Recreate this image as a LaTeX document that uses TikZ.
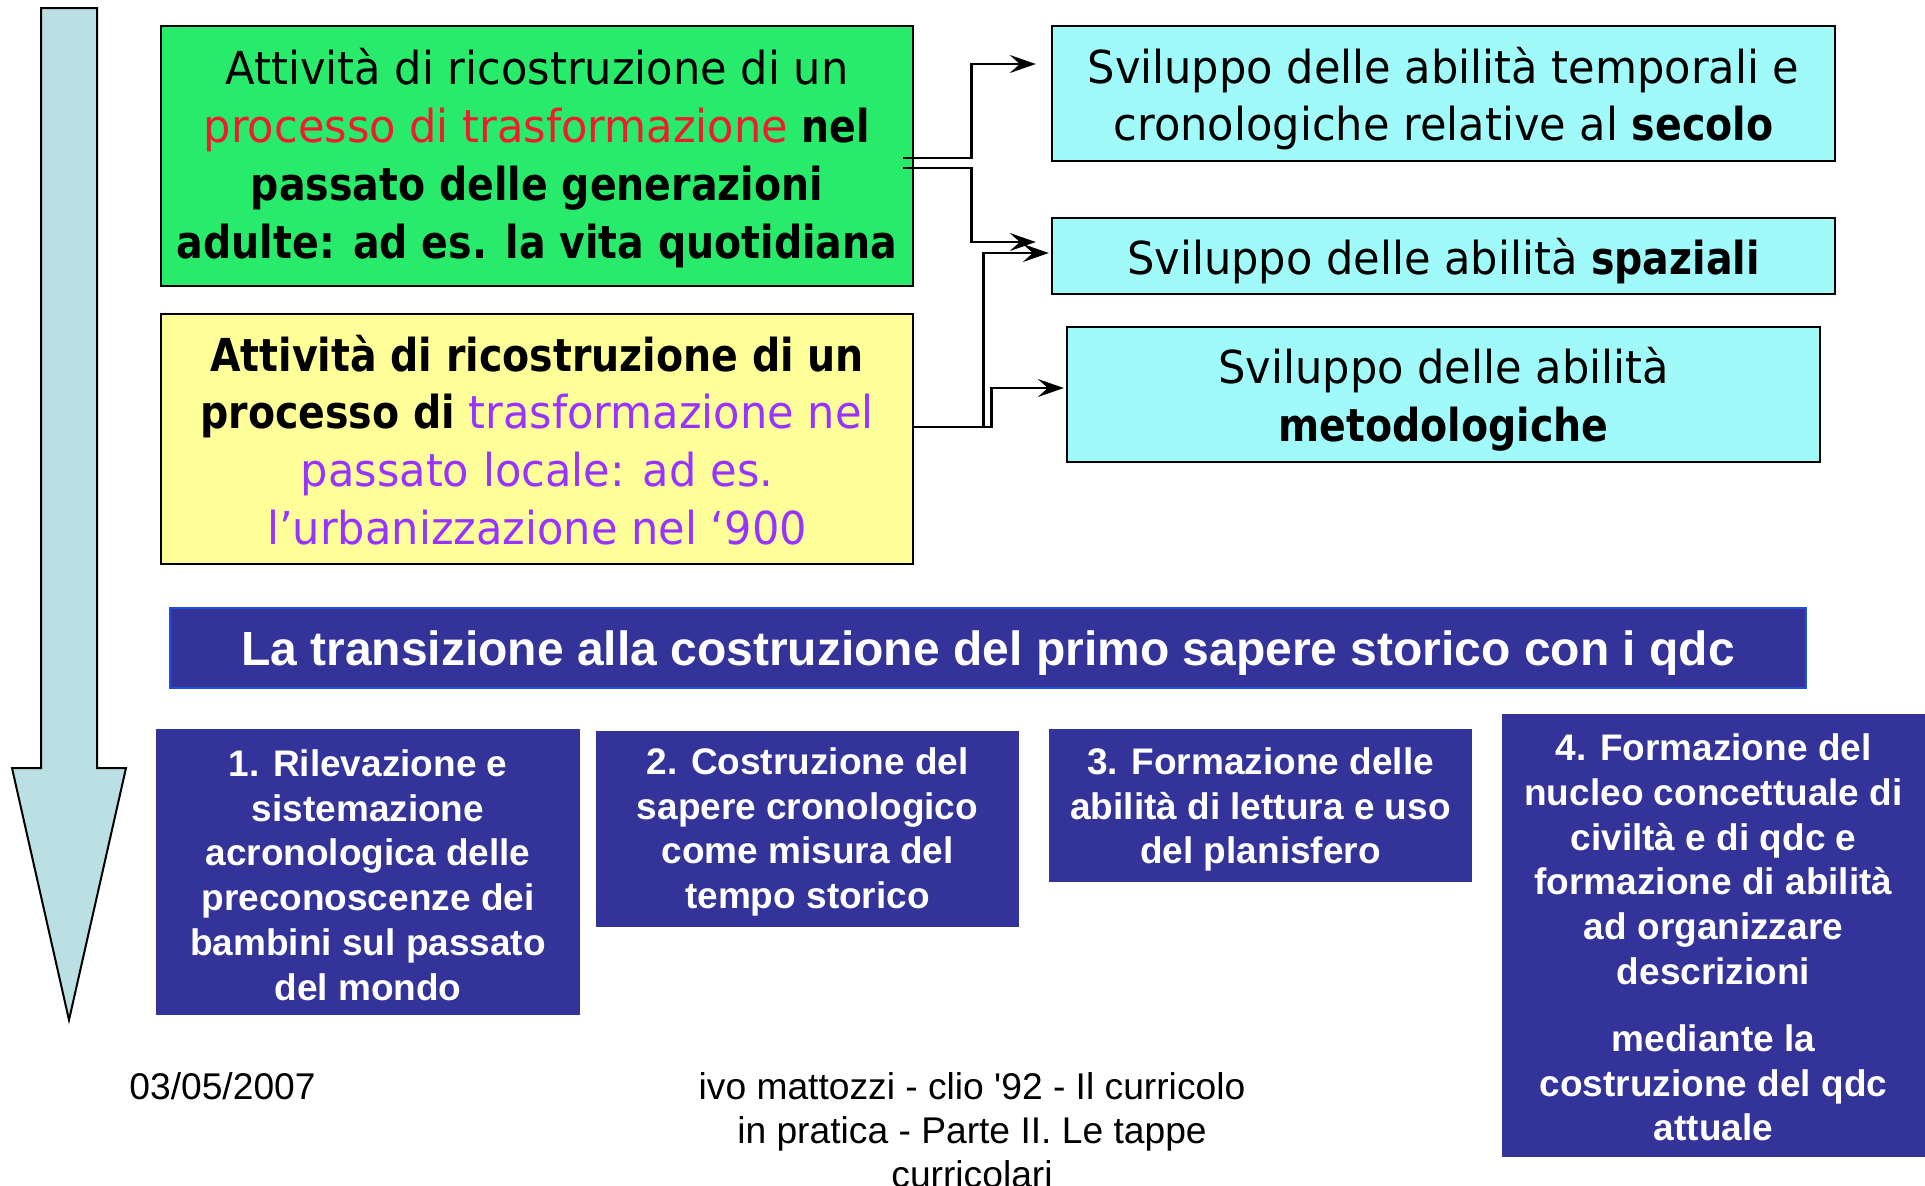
\documentclass[tikz,border=0pt]{standalone}
\usepackage{fontspec}
\setmainfont{DejaVu Sans}
\newfontfamily\tah[FakeStretch=0.95,BoldFeatures={FakeStretch=0.87}]{DejaVu Sans}
\newfontfamily\arl{Liberation Sans}
\usetikzlibrary{arrows.meta,calc}
\definecolor{gbox}{HTML}{29EB6B}
\definecolor{ybox}{HTML}{FFFF99}
\definecolor{cbox}{HTML}{A0FAFA}
\definecolor{dblue}{HTML}{333399}
\definecolor{tborder}{HTML}{2050D8}
\definecolor{afill}{HTML}{BBE0E3}
\definecolor{redt}{HTML}{EE1C2E}
\definecolor{purp}{HTML}{9933FF}
\tikzset{
  lightbox/.style={draw=black, line width=1.2pt, inner sep=0pt},
  lighttext/.style={inner sep=0pt, align=center,
    font=\tah\fontsize{22.7}{28.9}\selectfont},
  bluebox/.style={fill=dblue, inner sep=0pt},
  bluetext/.style={inner sep=0pt, align=center, text=white,
    font=\arl\bfseries\fontsize{18.5}{22.35}\selectfont},
  conn/.style={draw=black, line width=1.35pt,
    -{Stealth[length=13pt,width=9pt,inset=5pt]}},
  foot/.style={inner sep=0pt, align=center, font=\arl\fontsize{18.6}{22}\selectfont}
}
\begin{document}
\begin{tikzpicture}[x=0.5pt,y=-0.5pt]
\useasboundingbox (0,0) rectangle (1925,1185);
\clip (0,0) rectangle (1925,1185);

% big down arrow
\draw[fill=afill, draw=black, line width=1pt, line join=miter]
  (41,8) -- (97,8) -- (97,768) -- (126,768) -- (69,1020) -- (12,768) -- (41,768) -- cycle;

% activity boxes
\node[lightbox, fill=gbox, minimum width=376pt, minimum height=130pt] (green) at (537,156) {};
\node[lighttext] (greent) at ($(green)+(0,2)$)
  {Attività di ricostruzione di un\\
   {\color{redt}processo di trasformazione} \textbf{nel}\\
   \textbf{passato delle generazioni}\\
   \textbf{adulte: ad es. la vita quotidiana}};
\node[lightbox, fill=ybox, minimum width=376pt, minimum height=125pt] (yellow) at (537,439) {};
\node[lighttext] (yellowt) at ($(yellow)+(0,1)$)
  {\textbf{Attività di ricostruzione di un}\\
   \textbf{processo di} {\color{purp}trasformazione nel}\\
   {\color{purp}passato locale: ad es.}\\
   {\color{purp}l’urbanizzazione nel ‘900}};

% skill boxes
\node[lightbox, fill=cbox, minimum width=391.5pt, minimum height=67.5pt] (cy1) at (1443.5,93.5) {};
\node[lighttext] (cy1t) at ($(cy1)+(0,5)$)
  {Sviluppo delle abilità temporali e\\cronologiche relative al \textbf{secolo}};
\node[lightbox, fill=cbox, minimum width=391.5pt, minimum height=38pt] (cy2) at (1443.5,256) {};
\node[lighttext] (cy2t) at ($(cy2)+(0,5)$)
  {Sviluppo delle abilità \textbf{spaziali}};
\node[lightbox, fill=cbox, minimum width=376.5pt, minimum height=67.5pt] (cy3) at (1443.5,394.5) {};
\node[lighttext] (cy3t) at ($(cy3)+(0,5)$)
  {Sviluppo delle abilità\\\textbf{metodologiche}};

% connectors
\draw[conn] ($(green.east)+(-11,2)$) -- ++(68,0) |- ($(cy1.west)+(-15,-29.5)$);
\draw[conn] ($(green.east)+(-11,12)$) -- ++(68,0) |- ($(cy2.west)+(-15,-14)$);
\draw[conn] ($(yellow.east)+(0,-12)$) -- ++(69,0) |- ($(cy2.west)+(-2,-3)$);
\draw[conn] ($(yellow.east)+(0,-12)$) -- ++(77,0) |- ($(cy3.west)+(-2,-6.5)$);

% title banner
\node[fill=dblue, draw=tborder, line width=1pt, inner sep=0pt,
  minimum width=818pt, minimum height=40pt] (title) at (988,648) {};
\node[inner sep=0pt, text=white, font=\arl\bfseries\fontsize{24}{30}\selectfont]
  (titlet) at ($(title)+(0,5)$)
  {La transizione alla costruzione del primo sapere storico con i qdc};

% stage boxes
\node[bluebox, minimum width=212pt, minimum height=143pt] (s1) at (368,872) {};
\node[bluetext] (s1t) at ($(s1)+(0,3)$)
  {1. Rilevazione e\\sistemazione\\acronologica delle\\preconoscenze dei\\bambini sul passato\\del mondo};
\node[bluebox, minimum width=211.5pt, minimum height=98pt] (s2) at (807.5,829) {};
\node[bluetext] (s2t) at ($(s2)+(0,3)$)
  {2. Costruzione del\\sapere cronologico\\come misura del\\tempo storico};
\node[bluebox, minimum width=211.5pt, minimum height=76.5pt] (s3) at (1260.5,805.5) {};
\node[bluetext] (s3t) at ($(s3)+(0,4)$)
  {3. Formazione delle\\abilità di lettura e uso\\del planisfero};
\node[bluebox, minimum width=211.5pt, minimum height=221.5pt] (s4) at (1713.5,935.5) {};
\node[bluetext] (s4t) at ($(s4)+(0,2)$)
  {4. Formazione del\\nucleo concettuale di\\civiltà e di qdc e\\formazione di abilità\\ad organizzare\\descrizioni\\[11.3pt]mediante la\\costruzione del qdc\\attuale};

% footer
\node[foot, anchor=west] (date) at (129,1086.5) {03/05/2007};
\node[foot] (credits) at (972,1130.5)
  {ivo mattozzi - clio '92 - Il curricolo\\in pratica - Parte II. Le tappe\\curricolari};
\end{tikzpicture}
\end{document}
